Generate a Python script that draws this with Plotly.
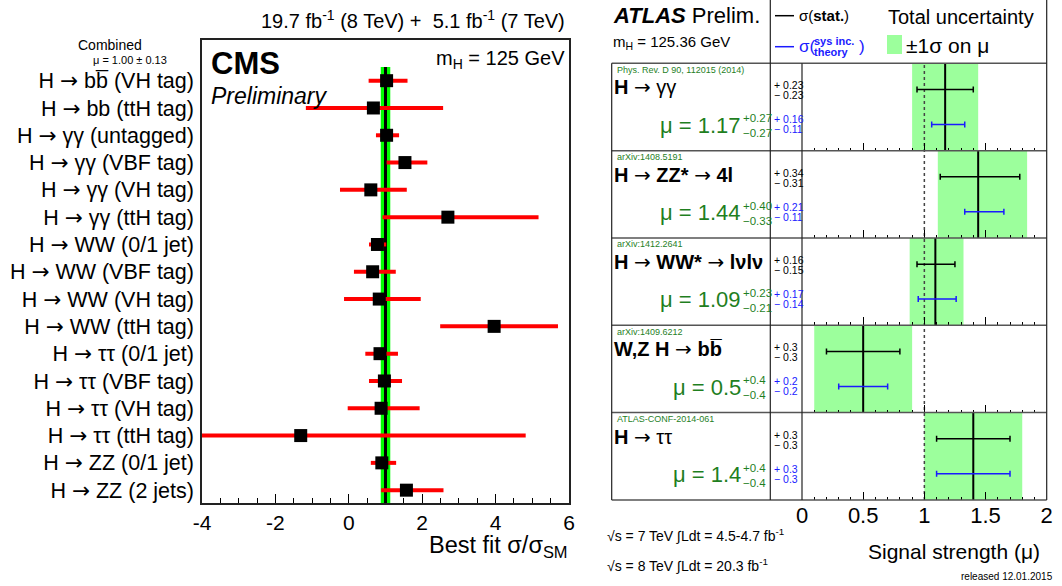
import plotly.graph_objects as go

W, H = 1062, 586
FONT = "Liberation Sans, Arial, Helvetica, sans-serif"
# long arrow glyph used in the process labels
ARROW = "<span style='font-family:DejaVu Sans'>→</span>"

# ---------------- CMS: best-fit signal strength per category ----------------
cms_processes = ["bb\u0305", "bb", "γγ", "γγ", "γγ", "γγ", "WW", "WW",
                 "WW", "WW", "ττ", "ττ", "ττ", "ττ", "ZZ", "ZZ"]
cms_tags = ["VH tag", "ttH tag", "untagged", "VBF tag", "VH tag", "ttH tag",
            "0/1 jet", "VBF tag", "VH tag", "ttH tag", "0/1 jet", "VBF tag",
            "VH tag", "ttH tag", "0/1 jet", "2 jets"]
cms_mu = [1.03, 0.67, 1.03, 1.53, 0.60, 2.70, 0.78, 0.65,
          0.83, 3.96, 0.85, 0.97, 0.88, -1.31, 0.90, 1.57]
cms_err_minus = [0.49, 1.84, 0.29, 0.50, 0.84, 1.78, 0.23, 0.51,
                 0.96, 1.47, 0.40, 0.42, 0.91, 5.50, 0.30, 0.69]
cms_err_plus = [0.57, 1.90, 0.34, 0.61, 0.98, 2.47, 0.24, 0.63,
                1.13, 1.74, 0.49, 0.48, 1.05, 6.13, 0.39, 1.01]
cms_comb_mu = 1.00
cms_comb_err = 0.13
cms_xticks = [-4, -2, 0, 2, 4, 6]

# ---------------- ATLAS: signal strength per decay channel ----------------
atlas_channels = [
    f"<b>H</b> {ARROW} γγ",
    f"<b>H</b> {ARROW} <b>ZZ*</b> {ARROW} <b>4l</b>",
    f"<b>H</b> {ARROW} <b>WW*</b> {ARROW} <b>lνlν</b>",
    f"<b>W,Z H</b> {ARROW} <b>bb\u0305</b>",
    f"<b>H</b> {ARROW} ττ",
]
atlas_refs = [
    "Phys. Rev. D 90, 112015 (2014)",
    "arXiv:1408.5191",
    "arXiv:1412.2641",
    "arXiv:1409.6212",
    "ATLAS-CONF-2014-061",
]
atlas_mu = [1.17, 1.44, 1.09, 0.5, 1.4]
atlas_digits = [2, 2, 2, 1, 1]
atlas_tot_plus = [0.27, 0.40, 0.23, 0.4, 0.4]
atlas_tot_minus = [0.27, 0.33, 0.21, 0.4, 0.4]
atlas_stat_plus = [0.23, 0.34, 0.16, 0.3, 0.3]
atlas_stat_minus = [0.23, 0.31, 0.15, 0.3, 0.3]
atlas_sys_plus = [0.16, 0.21, 0.17, 0.2, 0.3]
atlas_sys_minus = [0.11, 0.11, 0.14, 0.2, 0.3]
atlas_xticks = [0, 0.5, 1, 1.5, 2]
atlas_xticktext = ["0", "0.5", "1", "1.5", "2"]

GREEN_TXT = "#1f7f1f"
BAND = "#9cff9c"
BLUE = "#1a1aff"


def fx(x):
    return x / W


def fy(y):
    return 1 - y / H


def ann(x, y, text, size, color="black", xanchor="left", yanchor="middle"):
    return dict(xref="paper", yref="paper", x=fx(x), y=fy(y), text=text,
                showarrow=False, xanchor=xanchor, yanchor=yanchor,
                font=dict(family=FONT, size=size, color=color))


def pline(x0, y0, x1, y1, color="black", width=1.2, dash="solid"):
    return dict(type="line", xref="paper", yref="paper",
                x0=fx(x0), y0=fy(y0), x1=fx(x1), y1=fy(y1),
                line=dict(color=color, width=width, dash=dash))


fig = go.Figure()
shapes = []
annotations = []

# ---------------- left panel (CMS) ----------------
cms_labels = [f"H {ARROW} {p} ({t})" for p, t in zip(cms_processes, cms_tags)]
rows = list(range(len(cms_labels)))
fig.add_trace(go.Scatter(
    x=cms_mu, y=rows, mode="markers", xaxis="x", yaxis="y",
    marker=dict(symbol="square", size=13, color="black"),
    error_x=dict(type="data", symmetric=False, array=cms_err_plus,
                 arrayminus=cms_err_minus, color="#ff0000", thickness=4, width=0),
    hoverinfo="skip",
))

# combined result band and central line
shapes.append(dict(type="rect", xref="x", yref="y", layer="below",
                   x0=cms_comb_mu - cms_comb_err, x1=cms_comb_mu + cms_comb_err,
                   y0=-0.5, y1=15.6, fillcolor="#00ff00", line=dict(width=0)))
shapes.append(dict(type="line", xref="x", yref="y", layer="below",
                   x0=cms_comb_mu, x1=cms_comb_mu, y0=-0.5, y1=15.6,
                   line=dict(color="black", width=3)))

annotations += [
    ann(567, 20, "19.7 fb<sup>-1</sup> (8 TeV) +  5.1 fb<sup>-1</sup> (7 TeV)", 20,
        xanchor="right"),
    ann(209, 64, "<b>CMS</b>", 31),
    ann(209, 96, "<i>Preliminary</i>", 23),
    ann(567, 60, "m<sub>H</sub> = 125 GeV", 20, xanchor="right"),
    ann(110, 45, "Combined", 14, xanchor="center"),
    ann(169, 60, f"μ = {cms_comb_mu:.2f} ± {cms_comb_err:.2f}", 11, xanchor="right"),
    ann(570, 546, "Best fit σ/σ<sub>SM</sub>", 23.5, xanchor="right"),
]

layout_axes = dict(
    xaxis=dict(domain=[fx(202), fx(569)], range=[-4, 6], anchor="y",
               automargin=False,
               tickmode="array", tickvals=cms_xticks,
               ticktext=[str(v) for v in cms_xticks],
               ticks="inside", ticklen=9, tickwidth=1, tickcolor="black",
               minor=dict(tickmode="linear", tick0=-4, dtick=0.5, ticks="inside",
                          ticklen=5, tickwidth=1, tickcolor="black"),
               showline=True, mirror=True, linecolor="#222", linewidth=1.5,
               showgrid=False, zeroline=False,
               tickfont=dict(family=FONT, size=21, color="black")),
    yaxis=dict(domain=[fy(503), fy(40)], range=[15.47, -1.49], anchor="x",
               automargin=False,
               tickmode="array", tickvals=rows, ticktext=cms_labels,
               ticks="", ticklabelstandoff=2,
               showline=True, mirror=True, linecolor="#222", linewidth=1.5,
               showgrid=False, zeroline=False,
               tickfont=dict(family=FONT, size=21.5, color="black")),
)

# ---------------- right panel (ATLAS) ----------------
ROW_TOP = 63.3
ROW_H = 87.33
X0, X1 = 802, 1046.7
n_rows = len(atlas_mu)

for i in range(n_rows):
    k = i + 2
    top = ROW_TOP + i * ROW_H
    xa, ya = f"x{k}", f"y{k}"
    last = i == n_rows - 1
    layout_axes[f"xaxis{k}"] = dict(
        domain=[fx(X0), fx(X1)], range=[0, 2], anchor=ya, automargin=False,
        tickmode="array", tickvals=atlas_xticks, ticktext=atlas_xticktext,
        ticks="inside", ticklen=8, tickwidth=1, tickcolor="black",
        minor=dict(tickmode="linear", tick0=0, dtick=0.1, ticks="inside",
                   ticklen=3, tickwidth=1, tickcolor="black"),
        showticklabels=last, showline=False, showgrid=False, zeroline=False,
        tickfont=dict(family=FONT, size=22, color="black"),
    )
    layout_axes[f"yaxis{k}"] = dict(
        domain=[fy(top + ROW_H), fy(top)], range=[1, 0], anchor=xa,
        automargin=False,
        showticklabels=False, ticks="", showline=False, showgrid=False,
        zeroline=False,
    )

    mu = atlas_mu[i]
    d = atlas_digits[i]
    # total uncertainty band and central value
    shapes.append(dict(type="rect", xref=xa, yref=f"{ya} domain", layer="below",
                       x0=mu - atlas_tot_minus[i], x1=mu + atlas_tot_plus[i],
                       y0=0, y1=1, fillcolor=BAND, line=dict(width=0)))
    shapes.append(dict(type="line", xref=xa, yref=f"{ya} domain", layer="below",
                       x0=mu, x1=mu, y0=0, y1=1,
                       line=dict(color="black", width=2)))

    fig.add_trace(go.Scatter(
        x=[mu], y=[0.30], mode="markers", xaxis=xa, yaxis=ya,
        marker=dict(size=1, color="rgba(0,0,0,0)"),
        error_x=dict(type="data", symmetric=False, array=[atlas_stat_plus[i]],
                     arrayminus=[atlas_stat_minus[i]], color="black",
                     thickness=1.5, width=3),
        hoverinfo="skip"))
    fig.add_trace(go.Scatter(
        x=[mu], y=[0.70], mode="markers", xaxis=xa, yaxis=ya,
        marker=dict(size=1, color="rgba(0,0,0,0)"),
        error_x=dict(type="data", symmetric=False, array=[atlas_sys_plus[i]],
                     arrayminus=[atlas_sys_minus[i]], color=BLUE,
                     thickness=1.5, width=3),
        hoverinfo="skip"))

    annotations += [
        ann(615, top + 6.5, atlas_refs[i], 9, GREEN_TXT),
        ann(612, top + 24, atlas_channels[i], 20),
        ann(742.5, top + 62, f"μ = {mu:.{d}f}", 22, GREEN_TXT, xanchor="right"),
        ann(741, top + 55, f"+{atlas_tot_plus[i]:.{d}f}", 11.5, GREEN_TXT),
        ann(741, top + 70, f"−{atlas_tot_minus[i]:.{d}f}", 11.5, GREEN_TXT),
        ann(772, top + 22, f"+ {atlas_stat_plus[i]:.{d}f}", 10.5),
        ann(772, top + 32, f"− {atlas_stat_minus[i]:.{d}f}", 10.5),
        ann(772, top + 56, f"+ {atlas_sys_plus[i]:.{d}f}", 10.5, BLUE),
        ann(772, top + 66, f"− {atlas_sys_minus[i]:.{d}f}", 10.5, BLUE),
    ]

# SM expectation (mu = 1), dotted through all rows
shapes.append(dict(type="line", xref="x2", yref="paper", layer="below",
                   x0=1, x1=1, y0=fy(ROW_TOP + n_rows * ROW_H), y1=fy(ROW_TOP),
                   line=dict(color="#444", width=1.5, dash="dot")))

# table grid
for i in range(n_rows + 1):
    yy = ROW_TOP + i * ROW_H
    shapes.append(pline(611.7, yy, X1, yy, color="#555", width=1.5))
shapes.append(pline(611.7, ROW_TOP, 611.7, ROW_TOP + n_rows * ROW_H, "#222"))
shapes.append(pline(770.3, 0, 770.3, ROW_TOP + n_rows * ROW_H, "#222"))
shapes.append(pline(X0, ROW_TOP, X0, ROW_TOP + n_rows * ROW_H, "#222"))
shapes.append(pline(X1, 0, X1, ROW_TOP + n_rows * ROW_H, "#222"))

# header: legend entries
shapes.append(pline(775, 15.7, 794, 15.7, "black", 1.5))
shapes.append(pline(775, 46.7, 794, 46.7, BLUE, 1.5))
shapes.append(dict(type="rect", xref="paper", yref="paper",
                   x0=fx(887), x1=fx(902), y0=fy(54), y1=fy(35),
                   fillcolor=BAND, line=dict(width=0)))

annotations += [
    ann(611, 16, "<b><i>ATLAS</i></b> Prelim.", 22),
    ann(611, 43, "m<sub>H</sub> = 125.36 GeV", 15),
    ann(797, 15.7, "σ(<b>stat.</b>)", 15),
    ann(797, 47, "σ(", 17, BLUE),
    ann(812, 41, "<b>sys inc.</b>", 11, BLUE),
    ann(812, 52, "<b>theory</b>", 11, BLUE),
    ann(857, 47, ")", 17, BLUE),
    ann(886, 17, "Total uncertainty", 20),
    ann(904, 45, "±1σ on μ", 21),
    ann(1042, 551, "Signal strength (μ)", 21, xanchor="right"),
    ann(1055, 576, "released 12.01.2015", 10, xanchor="right"),
    ann(605, 535, "√s = 7 TeV ∫Ldt = 4.5-4.7 fb<sup>-1</sup>", 14),
    ann(605, 565, "√s = 8 TeV ∫Ldt = 20.3 fb<sup>-1</sup>", 14),
]

fig.update_layout(
    width=W, height=H,
    margin=dict(l=0, r=0, t=0, b=0),
    paper_bgcolor="white", plot_bgcolor="rgba(0,0,0,0)",
    showlegend=False,
    font=dict(family=FONT, color="black"),
    shapes=shapes, annotations=annotations,
    **layout_axes,
)

fig.write_html("out.html", config={"displayModeBar": False})
